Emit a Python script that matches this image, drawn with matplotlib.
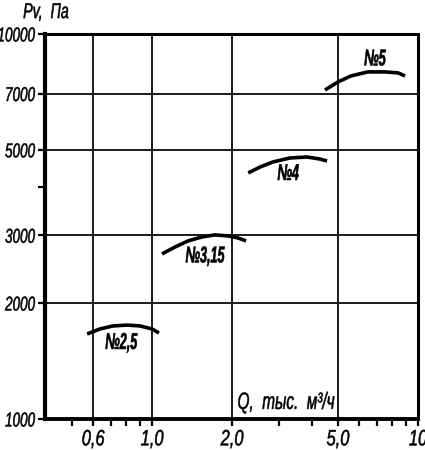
import matplotlib
matplotlib.use("Agg")
import matplotlib.pyplot as plt
from matplotlib.patheffects import AbstractPathEffect
from matplotlib.transforms import Affine2D
from matplotlib.ticker import FixedLocator, NullFormatter

plt.rcParams['font.family'] = ['Liberation Sans', 'DejaVu Sans']


class Squeeze(AbstractPathEffect):
    # narrow the glyphs sideways, the drawing font is tall and condensed
    def __init__(self, sx, anchor='center', stroke=0.35):
        super().__init__()
        self.sx = sx
        self.anchor = anchor
        self.stroke = stroke

    def draw_path(self, renderer, gc, tpath, affine, rgbFace=None):
        bb = tpath.get_extents(affine)
        x0 = {'left': bb.x0, 'right': bb.x1}.get(self.anchor, (bb.x0 + bb.x1) / 2)
        t = affine + Affine2D().translate(-x0, 0).scale(self.sx, 1).translate(x0, 0)
        gc0 = renderer.new_gc()
        gc0.copy_properties(gc)
        gc0 = self._update_gc(gc0, {'linewidth': self.stroke, 'foreground': rgbFace})
        renderer.draw_path(gc0, tpath, t, rgbFace)
        gc0.restore()


# fan curves, Q (thous. m3/h) vs Pv (Pa)
q25 = [0.570, 0.637, 0.713, 0.805, 0.901, 1.0, 1.062]
p25 = [1662, 1713, 1744, 1753, 1744, 1713, 1672]

q315 = [1.090, 1.220, 1.366, 1.542, 1.725, 1.930, 2.104, 2.258]
p315 = [2683, 2796, 2900, 2970, 3006, 2988, 2952, 2900]

q4 = [2.30, 2.55, 2.85, 3.30, 3.83, 4.28, 4.55]
p4 = [4355, 4513, 4651, 4762, 4790, 4732, 4677]

q5 = [4.47, 5.0, 5.60, 6.49, 7.51, 8.41, 8.94]
p5 = [7152, 7502, 7780, 7969, 7969, 7922, 7780]

curves = [(q25, p25, '№2,5', 0.765, 1580),
          (q315, p315, '№3,15', 1.58, 2651),
          (q4, p4, '№4', 3.25, 4340),
          (q5, p5, '№5', 6.88, 8610)]

xticks = [0.6, 1.0, 2.0, 5.0, 10]
xtick_labels = ['0,6', '1,0', '2,0', '5,0', '10']
xminor = [0.5, 0.7, 0.8, 0.9, 3, 4, 6, 7, 8, 9]
yticks = [1000, 2000, 3000, 5000, 7000, 10000]
yminor = [4000]

fig = plt.figure(figsize=(4.25, 4.5), dpi=100)
ax = fig.add_axes([0.106, 0.069, 0.8775, 0.8556])
ax.set_xscale('log')
ax.set_yscale('log')
ax.set_xlim(0.396, 10)
ax.set_ylim(1000, 10000)

for q, p, name, lx, ly in curves:
    ax.plot(q, p, color='black', lw=2.6, solid_capstyle='butt')
    ax.text(lx, ly, name, ha='center', va='center', fontsize=16.5,
            style='italic', fontweight='bold',
            path_effects=[Squeeze(0.55, 'center', 0.4)])

ax.xaxis.set_major_locator(FixedLocator(xticks))
ax.xaxis.set_minor_locator(FixedLocator(xminor))
ax.set_xticklabels(xtick_labels)
ax.xaxis.set_minor_formatter(NullFormatter())
ax.yaxis.set_major_locator(FixedLocator(yticks))
ax.yaxis.set_minor_locator(FixedLocator(yminor))
ax.set_yticklabels([str(v) for v in yticks])
ax.yaxis.set_minor_formatter(NullFormatter())

ax.grid(True, which='major', color='#1a1a1a', lw=1.4)
ax.tick_params(which='both', direction='out', width=1.6, length=5, colors='black')
ax.tick_params(axis='x', which='major', labelsize=16, pad=2.5)
ax.tick_params(axis='y', which='major', labelsize=14.5, pad=2)
for lab in ax.get_xticklabels():
    lab.set_style('italic')
    lab.set_path_effects([Squeeze(0.74, 'center')])
for lab in ax.get_yticklabels():
    lab.set_style('italic')
    lab.set_path_effects([Squeeze(0.67, 'right')])
for s in ax.spines.values():
    s.set_linewidth(2.2)
ax.spines['left'].set_linewidth(3)
ax.spines['bottom'].set_linewidth(2.8)

fig.text(0.054, 0.972, 'Pv,  Па', fontsize=15.5, style='italic',
         ha='left', va='center', path_effects=[Squeeze(0.66, 'left')])
ax.text(0.515, 0.043, 'Q,  тыс.  м³/ч', transform=ax.transAxes, fontsize=17,
        style='italic', ha='left', va='center',
        path_effects=[Squeeze(0.65, 'left')])

fig.savefig('out.png', dpi=100)
